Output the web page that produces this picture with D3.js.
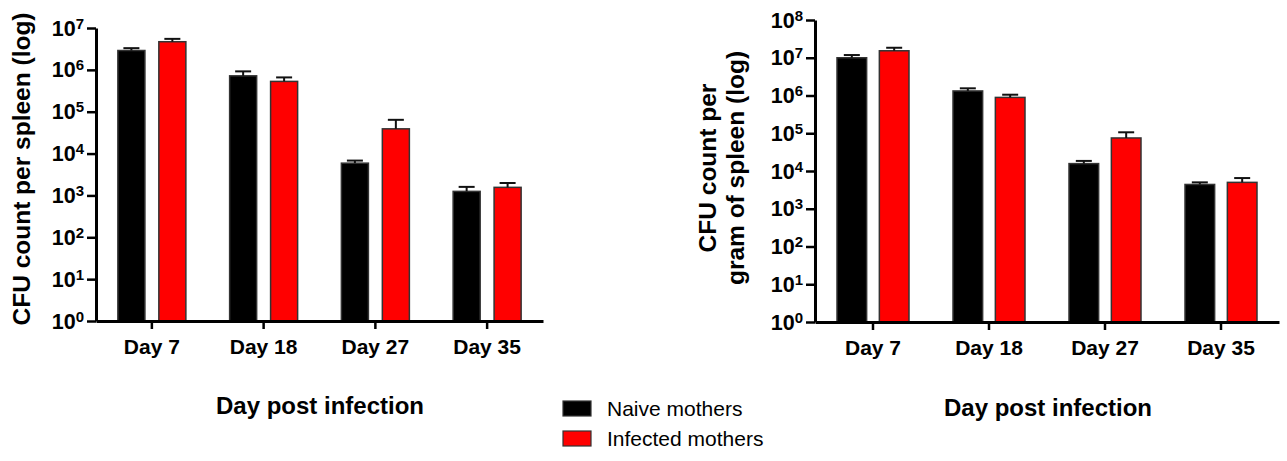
<!DOCTYPE html>
<html>
<head>
<meta charset="utf-8">
<script src="https://cdn.jsdelivr.net/npm/d3@7"></script>
<style>
  html, body { margin: 0; padding: 0; background: #fff; }
  svg { display: block; font-family: "Liberation Sans", Arial, sans-serif; }
</style>
</head>
<body>
<svg id="fig" width="1287" height="461"></svg>
<script>
// Groups and series
const days = ["Day 7", "Day 18", "Day 27", "Day 35"];
const series = ["Naive mothers", "Infected mothers"];
const seriesColors = ["#000000", "#ff0000"];

// CFU per spleen (mean and SEM)
const spleenNaive = [2.9e6, 7.2e5, 5.9e3, 1.25e3];
const spleenNaiveSem = [4.0e5, 2.0e5, 9.0e2, 3.5e2];
const spleenInfected = [4.7e6, 5.3e5, 3.9e4, 1.56e3];
const spleenInfectedSem = [8.0e5, 1.3e5, 2.5e4, 4.2e2];

// CFU per gram of spleen (mean and SEM)
const gramNaive = [1.0e7, 1.32e6, 1.57e4, 4.4e3];
const gramNaiveSem = [1.8e6, 2.3e5, 2.8e3, 6.0e2];
const gramInfected = [1.53e7, 8.9e5, 7.5e4, 5.0e3];
const gramInfectedSem = [3.1e6, 1.6e5, 3.1e4, 1.5e3];

// Log tick exponents for each panel
const spleenExponents = [0, 1, 2, 3, 4, 5, 6, 7];
const gramExponents = [0, 1, 2, 3, 4, 5, 6, 7, 8];

const xTitle = "Day post infection";

const svg = d3.select("#fig");

function drawPanel(opt) {
  const g = svg.append("g");
  const x = d3.scaleBand().domain(days).range(opt.xRange);
  const y = d3.scaleLog().domain(opt.yDomain).range(opt.yRange);
  const sub = d3.scaleBand().domain(series).range(opt.subRange).paddingInner(opt.subPad);

  const rows = [];
  days.forEach((d, i) => {
    series.forEach((s, k) => {
      rows.push({ day: d, s, k, v: opt.values[k][i], e: opt.errs[k][i] });
    });
  });

  const cx = r => x(r.day) + x.bandwidth() / 2;

  // bars
  g.selectAll("rect.bar").data(rows).join("rect")
    .attr("class", "bar")
    .attr("x", r => cx(r) + sub(r.s))
    .attr("width", sub.bandwidth())
    .attr("y", r => y(r.v))
    .attr("height", r => y(opt.yDomain[0]) - y(r.v))
    .attr("fill", r => seriesColors[r.k])
    .attr("stroke", "#333")
    .attr("stroke-width", 1.5);

  // error bars (upper only)
  const eb = g.selectAll("g.err").data(rows).join("g").attr("class", "err")
    .attr("stroke", "#111").attr("stroke-width", 2);
  eb.append("line")
    .attr("x1", r => cx(r) + sub(r.s) + sub.bandwidth() / 2)
    .attr("x2", r => cx(r) + sub(r.s) + sub.bandwidth() / 2)
    .attr("y1", r => y(r.v))
    .attr("y2", r => y(r.v + r.e));
  eb.append("line")
    .attr("x1", r => cx(r) + sub(r.s) + sub.bandwidth() / 2 - 8)
    .attr("x2", r => cx(r) + sub(r.s) + sub.bandwidth() / 2 + 8)
    .attr("y1", r => y(r.v + r.e))
    .attr("y2", r => y(r.v + r.e));

  // x axis
  const xAxis = g.append("g")
    .attr("transform", `translate(0,${opt.yRange[0]})`)
    .call(d3.axisBottom(x).tickSize(8).tickSizeOuter(0).tickPadding(6));
  xAxis.select(".domain").attr("stroke", "#000").attr("stroke-width", 3);
  xAxis.selectAll(".tick line").attr("stroke", "#000").attr("stroke-width", 2.5);
  xAxis.selectAll(".tick text")
    .attr("font-size", 21).attr("font-weight", "bold").attr("fill", "#000")
    .attr("dy", "0.9em");

  // y axis
  const ticks = opt.exponents.map(p => Math.pow(10, p));
  const yAxis = g.append("g")
    .attr("transform", `translate(${opt.xRange[0]},0)`)
    .call(d3.axisLeft(y).tickValues(ticks).tickSize(9).tickSizeOuter(0).tickFormat(() => ""));
  yAxis.select(".domain").attr("stroke", "#000").attr("stroke-width", 3);
  yAxis.selectAll(".tick line").attr("stroke", "#000").attr("stroke-width", 2.5);
  yAxis.selectAll(".tick text").each(function (d) {
    const t = d3.select(this)
      .attr("x", -12).attr("dy", null).attr("y", 7)
      .attr("fill", "#000").attr("font-weight", "bold").attr("text-anchor", "end");
    t.append("tspan").attr("font-size", 21.5).text("10");
    t.append("tspan").attr("font-size", 15).attr("dy", -7).text(Math.round(Math.log10(d)));
  });

  // y title
  const yt = g.append("text")
    .attr("transform", `translate(${opt.yTitleX},${opt.yTitleY}) rotate(-90)`)
    .attr("text-anchor", "middle")
    .attr("font-size", 24.5).attr("font-weight", "bold").attr("fill", "#000");
  opt.yTitle.forEach((line, i) => {
    yt.append("tspan").attr("x", 0).attr("dy", i === 0 ? 0 : 28).text(line);
  });

  // x title
  g.append("text")
    .attr("x", opt.xTitleX).attr("y", opt.xTitleY)
    .attr("text-anchor", "middle")
    .attr("font-size", 24).attr("font-weight", "bold").attr("fill", "#000")
    .text(xTitle);
}

drawPanel({
  xRange: [96, 543], yRange: [321, 28], yDomain: [1, 1e7],
  subRange: [-34, 34], subPad: 0.34,
  values: [spleenNaive, spleenInfected], errs: [spleenNaiveSem, spleenInfectedSem],
  exponents: spleenExponents,
  yTitle: ["CFU count per spleen (log)"], yTitleX: 30, yTitleY: 169,
  xTitleX: 320, xTitleY: 414
});

drawPanel({
  xRange: [815, 1279], yRange: [322, 20], yDomain: [1, 1e8],
  subRange: [-36, 36], subPad: 0.3,
  values: [gramNaive, gramInfected], errs: [gramNaiveSem, gramInfectedSem],
  exponents: gramExponents,
  yTitle: ["CFU count per", "gram of spleen (log)"], yTitleX: 716, yTitleY: 168,
  xTitleX: 1048, xTitleY: 416
});

// legend
const legend = svg.append("g").attr("transform", "translate(563,401)");
const li = legend.selectAll("g").data(series).join("g")
  .attr("transform", (d, i) => `translate(0,${i * 30})`);
li.append("rect")
  .attr("width", 28).attr("height", 15)
  .attr("fill", (d, i) => seriesColors[i])
  .attr("stroke", "#333").attr("stroke-width", 1.2);
li.append("text")
  .attr("x", 44).attr("y", 15)
  .attr("font-size", 21).attr("fill", "#000")
  .text(d => d);
</script>
</body>
</html>
